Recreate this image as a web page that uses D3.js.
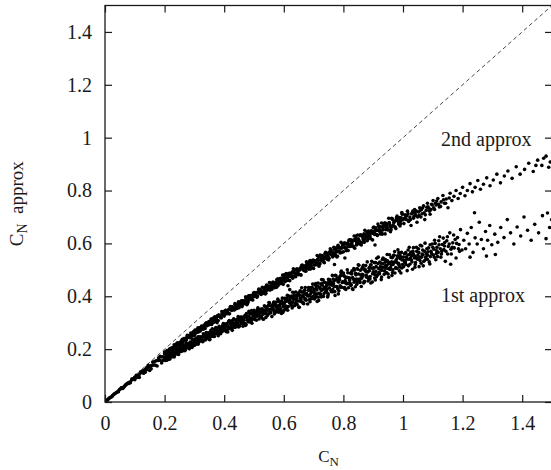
<!DOCTYPE html>
<html><head><meta charset="utf-8">
<script src="https://cdn.jsdelivr.net/npm/d3@7"></script>
<style>body{margin:0;background:#fff} svg{display:block}</style>
</head><body>
<svg id="c" width="551" height="470"></svg>
<script>
const xTicks=[0,0.2,0.4,0.6,0.8,1,1.2,1.4];
const yTicks=[0,0.2,0.4,0.6,0.8,1,1.2,1.4];
const seriesNames=["2nd approx","1st approx"];
const diagonal=[[0,0],[1.5,1.5]];

// 2nd approximation (upper band) — samples
const approx2A=[
[.01,.010],[.02,.019],[.03,.029],[.04,.037],[.05,.048],[.06,.054],[.07,.066],[.08,.073],[.09,.087],[.10,.093],[.11,.099],[.12,.114],[.13,.119],[.14,.130],[.15,.133],[.16,.151],[.17,.155],[.18,.167],[.19,.170],[.20,.189],
[.005,.005],[.015,.015],[.025,.023],[.035,.033],[.045,.042],[.055,.054],[.065,.060],[.075,.071],[.085,.076],[.095,.089],[.105,.101],[.115,.104],[.125,.117],[.135,.124],[.145,.139],[.155,.138],[.165,.152],[.175,.157],[.185,.173],[.195,.171],
[.200,.183],[.204,.180],[.208,.195],[.212,.190],[.216,.199],[.220,.190],[.224,.204],[.228,.201],[.232,.216],[.236,.211],
[.240,.208],[.244,.223],[.248,.218],[.252,.225],[.256,.219],[.260,.237],[.264,.232],[.268,.240],[.272,.235],[.276,.252],
[.280,.247],[.284,.243],[.288,.261],[.292,.254],[.296,.264],[.300,.252],[.304,.268],[.308,.263],[.312,.281],[.316,.274],
[.320,.269],[.324,.287],[.328,.279],[.332,.288],[.336,.278],[.340,.300],[.344,.293],[.348,.302],[.352,.294],[.356,.314],
[.360,.307],[.364,.301],[.368,.322],[.372,.312],[.376,.324],[.380,.308],[.384,.327],[.388,.321],[.392,.342],[.396,.332],
[.400,.325],[.404,.346],[.408,.336],[.412,.346],[.416,.334],[.420,.359],[.424,.350],[.428,.360],[.432,.349],[.436,.372],
[.440,.363],[.444,.355],[.448,.379],[.452,.367],[.456,.380],[.460,.361],[.464,.383],[.468,.374],[.472,.398],[.476,.386],
[.480,.377],[.484,.401],[.488,.389],[.492,.400],[.496,.386],[.500,.414],[.504,.403],[.508,.414],[.512,.401],[.516,.427],
[.520,.416],[.524,.407],[.528,.434],[.532,.419],[.536,.433],[.540,.411],[.544,.435],[.548,.425],[.552,.452],[.556,.437],
[.560,.427],[.564,.454],[.568,.439],[.572,.451],[.576,.434],[.580,.466],[.584,.453],[.588,.465],[.592,.450],[.596,.480],
[.600,.467],[.604,.455],[.608,.486],[.612,.468],[.616,.485],[.620,.459],[.624,.486],[.628,.474],[.632,.504],[.636,.487],
[.640,.474],[.644,.504],[.648,.488],[.652,.500],[.656,.481],[.660,.516],[.664,.501],[.668,.514],[.672,.497],[.676,.530],
[.680,.515],[.684,.502],[.688,.535],[.692,.516],[.696,.534],[.700,.505],[.704,.534],[.708,.521],[.712,.554],[.716,.535],
[.720,.521],[.724,.553],[.728,.535],[.732,.549],[.736,.527],[.740,.566],[.744,.549],[.748,.563],[.752,.544],[.756,.580],
[.760,.563],[.764,.549],[.768,.585],[.772,.563],[.776,.583],[.780,.551],[.784,.583],[.788,.568],[.792,.604],[.796,.583],
[.800,.568],[.804,.602],[.808,.582],[.812,.597],[.816,.573],[.820,.614],[.824,.596],[.828,.611],[.832,.590],[.836,.628],
[.840,.610],[.844,.594],[.848,.632],[.852,.608],[.856,.629],[.860,.594],[.864,.628],[.868,.612],[.872,.650],[.876,.627],
[.880,.610],[.884,.647],[.888,.625],[.892,.641],[.896,.615],[.900,.659],[.904,.639],[.908,.655],[.912,.633],[.916,.673],
[.920,.653],[.924,.636],[.928,.677],[.932,.651],[.936,.673],[.940,.636],[.944,.672],[.948,.654],[.952,.695],[.956,.670],
[.960,.652],[.964,.691],[.968,.667],[.972,.684],[.976,.656],[.980,.703],[.984,.682],[.988,.698],[.992,.674],[.996,.717]
];
const approx2B=[
[.202,.187],[.206,.186],[.210,.184],[.214,.195],[.218,.201],[.222,.197],[.226,.203],[.230,.201],[.234,.212],[.238,.204],
[.242,.223],[.246,.217],[.250,.223],[.254,.219],[.258,.234],[.262,.236],[.266,.233],[.270,.231],[.274,.244],[.278,.250],
[.282,.244],[.286,.251],[.290,.248],[.294,.261],[.298,.251],[.302,.272],[.306,.264],[.310,.271],[.314,.265],[.318,.281],
[.322,.283],[.326,.279],[.330,.275],[.334,.290],[.338,.297],[.342,.288],[.346,.296],[.350,.292],[.354,.306],[.358,.293],
[.362,.317],[.366,.307],[.370,.315],[.374,.308],[.378,.326],[.382,.328],[.386,.323],[.390,.318],[.394,.334],[.398,.342],
[.402,.331],[.406,.340],[.410,.334],[.414,.349],[.418,.334],[.422,.361],[.426,.349],[.430,.357],[.434,.348],[.438,.369],
[.442,.370],[.446,.364],[.450,.357],[.454,.375],[.458,.383],[.462,.371],[.466,.380],[.470,.373],[.474,.390],[.478,.372],
[.482,.402],[.486,.389],[.490,.398],[.494,.387],[.498,.410],[.502,.411],[.506,.403],[.510,.396],[.514,.415],[.518,.424],
[.522,.410],[.526,.419],[.530,.411],[.534,.430],[.538,.409],[.542,.442],[.546,.426],[.550,.436],[.554,.424],[.558,.449],
[.562,.450],[.566,.441],[.570,.432],[.574,.453],[.578,.462],[.582,.447],[.586,.457],[.590,.448],[.594,.468],[.598,.445],
[.602,.481],[.606,.464],[.610,.474],[.614,.460],[.618,.487],[.622,.487],[.626,.478],[.630,.468],[.634,.491],[.638,.500],
[.642,.483],[.646,.494],[.650,.483],[.654,.505],[.658,.480],[.662,.518],[.666,.499],[.670,.510],[.674,.495],[.678,.524],
[.682,.524],[.686,.513],[.690,.503],[.694,.527],[.698,.537],[.702,.518],[.706,.530],[.710,.519],[.714,.541],[.718,.514],
[.722,.556],[.726,.535],[.730,.547],[.734,.530],[.738,.561],[.742,.561],[.746,.549],[.750,.537],[.754,.563],[.758,.574],
[.762,.554],[.766,.566],[.770,.554],[.774,.578],[.778,.549],[.782,.593],[.786,.571],[.790,.583],[.794,.566],[.798,.597],
[.802,.597],[.806,.585],[.810,.572],[.814,.599],[.818,.610],[.822,.588],[.826,.601],[.830,.588],[.834,.613],[.838,.582],
[.842,.628],[.846,.604],[.850,.616],[.854,.598],[.858,.631],[.862,.631],[.866,.617],[.870,.604],[.874,.632],[.878,.644],
[.882,.621],[.886,.634],[.890,.620],[.894,.646],[.898,.613],[.902,.662],[.906,.636],[.910,.649],[.914,.630],[.918,.665],
[.922,.664],[.926,.650],[.930,.635],[.934,.665],[.938,.677],[.942,.652],[.946,.666],[.950,.651],[.954,.679],[.958,.644],
[.962,.695],[.966,.668],[.970,.682],[.974,.660],[.978,.697],[.982,.697],[.986,.681],[.990,.666],[.994,.697],[.998,.710]
];
const approx2C=[
[.201,.184],[.205,.184],[.209,.193],[.213,.188],[.217,.196],[.221,.197],[.225,.205],[.229,.200],[.233,.209],[.237,.216],
[.241,.220],[.245,.217],[.249,.217],[.253,.227],[.257,.225],[.261,.227],[.265,.240],[.269,.238],[.273,.235],[.277,.246],
[.281,.251],[.285,.246],[.289,.255],[.293,.255],[.297,.266],[.301,.256],[.305,.267],[.309,.274],[.313,.268],[.317,.274],
[.321,.281],[.325,.275],[.329,.281],[.333,.291],[.337,.289],[.341,.294],[.345,.291],[.349,.304],[.353,.295],[.357,.304],
[.361,.304],[.365,.314],[.369,.305],[.373,.317],[.377,.324],[.381,.329],[.385,.323],[.389,.321],[.393,.334],[.397,.329],
[.401,.331],[.405,.347],[.409,.342],[.413,.336],[.417,.350],[.421,.355],[.425,.346],[.429,.357],[.433,.355],[.437,.369],
[.441,.353],[.445,.367],[.449,.375],[.453,.366],[.457,.372],[.461,.381],[.465,.371],[.469,.378],[.473,.391],[.477,.387],
[.481,.393],[.485,.387],[.489,.403],[.493,.389],[.497,.400],[.501,.399],[.505,.411],[.509,.398],[.513,.412],[.517,.420],
[.521,.425],[.525,.416],[.529,.412],[.533,.428],[.537,.421],[.541,.421],[.545,.441],[.549,.434],[.553,.425],[.557,.443],
[.561,.448],[.565,.436],[.569,.448],[.573,.445],[.577,.463],[.581,.441],[.585,.458],[.589,.468],[.593,.455],[.597,.462],
[.601,.472],[.605,.458],[.609,.466],[.613,.482],[.617,.475],[.621,.482],[.625,.474],[.629,.493],[.633,.475],[.637,.487],
[.641,.485],[.645,.499],[.649,.482],[.653,.499],[.657,.509],[.661,.513],[.665,.502],[.669,.497],[.673,.515],[.677,.506],
[.681,.506],[.685,.529],[.689,.520],[.693,.509],[.697,.529],[.701,.535],[.705,.519],[.709,.534],[.713,.529],[.717,.550],
[.721,.524],[.725,.542],[.729,.554],[.733,.538],[.737,.546],[.741,.557],[.745,.540],[.749,.550],[.753,.567],[.757,.559],
[.761,.566],[.765,.557],[.769,.578],[.773,.557],[.777,.571],[.781,.569],[.785,.585],[.789,.564],[.793,.583],[.797,.594],
[.801,.599],[.805,.585],[.809,.579],[.813,.600],[.817,.588],[.821,.588],[.825,.614],[.829,.602],[.833,.589],[.837,.612],
[.841,.618],[.845,.599],[.849,.616],[.853,.610],[.857,.633],[.861,.603],[.865,.624],[.869,.636],[.873,.617],[.877,.626],
[.881,.638],[.885,.618],[.889,.629],[.893,.648],[.897,.638],[.901,.646],[.905,.634],[.909,.659],[.913,.633],[.917,.649],
[.921,.646],[.925,.663],[.929,.639],[.933,.660],[.937,.672],[.941,.677],[.945,.661],[.949,.653],[.953,.677],[.957,.663],
[.961,.662],[.965,.692],[.969,.678],[.973,.663],[.977,.688],[.981,.695],[.985,.673],[.989,.692],[.993,.685],[.997,.711]
];
const approx2Tail=[
[1.003,.675],[1.007,.708],[1.011,.690],[1.015,.722],[1.019,.683],[1.023,.700],[1.027,.668],[1.031,.715],[1.035,.695],[1.039,.728],
[1.043,.705],[1.047,.680],[1.052,.719],[1.056,.735],[1.060,.700],[1.064,.712],[1.069,.742],[1.073,.690],[1.078,.725],[1.082,.752],
[1.087,.733],[1.091,.710],[1.096,.748],[1.101,.762],[1.106,.728],[1.111,.745],[1.117,.770],[1.122,.738],[1.128,.757],[1.134,.781],
[1.139,.752],[1.145,.768],[1.151,.735],[1.158,.790],[1.164,.762],[1.171,.778],[1.178,.800],[1.185,.770],[1.192,.789],[1.200,.812],
[1.208,.780],[1.216,.800],[1.225,.826],[1.233,.795],[1.242,.812],[1.251,.838],[1.260,.805],[1.270,.824],[1.281,.848],[1.292,.818],
[1.303,.840],[1.315,.862],[1.327,.829],[1.340,.855],[1.352,.874],[1.366,.846],[1.380,.890],[1.393,.862],[1.408,.880],[1.422,.903],
[1.437,.872],[1.452,.915],[1.466,.895],[1.480,.930],[1.494,.908],[1.489,.888],[1.472,.922],[1.446,.895],
[1.005,.695],[1.013,.705],[1.021,.688],[1.029,.712],[1.037,.703],[1.045,.722],[1.054,.706],[1.062,.728],[1.071,.716],[1.080,.737],[1.094,.728],[1.109,.752],
[1.001,.690],[1.009,.700],[1.017,.712],[1.025,.690],[1.033,.722],[1.041,.715],[1.049,.700],[1.058,.725],[1.066,.735],[1.075,.708],
[1.084,.738],[1.089,.722],[1.098,.745],[1.103,.735],[1.113,.760],[1.119,.748],[1.126,.740],[1.136,.765],[1.143,.752],[1.155,.772]
];

// 1st approximation (lower band)
const approx1A=[
[.01,.010],[.02,.018],[.03,.029],[.04,.037],[.05,.048],[.06,.051],[.07,.064],[.08,.070],[.09,.083],[.10,.084],[.11,.096],[.12,.111],[.13,.109],[.14,.122],[.15,.119],[.16,.139],[.17,.139],[.18,.157],[.19,.148],[.20,.163],
[.005,.004],[.015,.015],[.025,.023],[.035,.033],[.045,.039],[.055,.053],[.065,.058],[.075,.069],[.085,.073],[.095,.088],[.105,.092],[.115,.093],[.125,.111],[.135,.113],[.145,.131],[.155,.126],[.165,.140],[.175,.136],[.185,.158],[.195,.157],
[.200,.163],[.203,.157],[.207,.176],[.210,.166],[.213,.176],[.217,.162],[.220,.179],[.223,.172],[.227,.191],[.230,.181],[.233,.174],[.237,.193],
[.240,.183],[.243,.193],[.247,.180],[.250,.204],[.253,.195],[.257,.204],[.260,.193],[.263,.216],[.267,.206],[.270,.198],[.273,.221],[.277,.208],
[.280,.221],[.283,.201],[.287,.222],[.290,.213],[.293,.237],[.297,.224],[.300,.214],[.303,.238],[.307,.225],[.310,.235],[.313,.219],[.317,.247],
[.320,.235],[.323,.246],[.327,.231],[.330,.258],[.333,.246],[.337,.235],[.340,.263],[.343,.246],[.347,.261],[.350,.236],[.353,.261],[.357,.249],
[.360,.277],[.363,.260],[.367,.248],[.370,.276],[.373,.260],[.377,.271],[.380,.251],[.383,.286],[.387,.271],[.390,.283],[.393,.266],[.397,.297],
[.400,.278],[.403,.295],[.407,.266],[.410,.289],[.413,.275],[.417,.308],[.420,.282],[.423,.300],[.427,.271],[.430,.294],[.433,.312],[.437,.283],
[.440,.306],[.443,.296],[.447,.323],[.450,.286],[.453,.307],[.457,.297],[.460,.321],[.463,.287],[.467,.309],[.470,.328],[.473,.294],[.477,.321],
[.480,.304],[.483,.343],[.487,.313],[.490,.333],[.493,.298],[.497,.325],[.500,.347],[.503,.312],[.507,.338],[.510,.326],[.513,.356],[.517,.314],
[.520,.339],[.523,.325],[.527,.353],[.530,.314],[.533,.338],[.537,.360],[.540,.320],[.543,.352],[.547,.332],[.550,.376],[.553,.341],[.557,.363],
[.560,.323],[.563,.354],[.567,.378],[.570,.338],[.573,.368],[.577,.354],[.580,.389],[.583,.340],[.587,.368],[.590,.353],[.593,.383],[.597,.339],
[.600,.346],[.603,.392],[.607,.363],[.610,.381],[.613,.347],[.617,.401],[.620,.375],[.623,.394],[.627,.364],[.630,.415],[.633,.388],[.637,.365],
[.640,.416],[.643,.381],[.647,.408],[.650,.359],[.653,.404],[.657,.380],[.660,.432],[.663,.397],[.667,.372],[.670,.423],[.673,.390],[.677,.410],
[.680,.371],[.683,.433],[.687,.403],[.690,.424],[.693,.391],[.697,.446],[.700,.417],[.703,.390],[.707,.448],[.710,.409],[.713,.439],[.717,.384],
[.720,.434],[.723,.407],[.727,.463],[.730,.426],[.733,.399],[.737,.453],[.740,.418],[.743,.440],[.747,.397],[.750,.464],[.753,.432],[.757,.454],
[.760,.417],[.763,.479],[.767,.446],[.770,.417],[.773,.479],[.777,.437],[.780,.469],[.783,.409],[.787,.463],[.790,.434],[.793,.495],[.797,.454],
[.800,.488],[.803,.430],[.807,.472],[.810,.451],[.813,.500],[.817,.432],[.820,.469],[.823,.448],[.827,.490],[.830,.428],[.833,.465],[.837,.499],
[.840,.436],[.843,.483],[.847,.453],[.850,.519],[.853,.465],[.857,.498],[.860,.437],[.863,.483],[.867,.517],[.870,.457],[.873,.501],[.877,.479],
[.880,.530],[.883,.458],[.887,.497],[.890,.475],[.893,.519],[.897,.454],[.900,.493],[.903,.528],[.907,.462],[.910,.512],[.913,.479],[.917,.548],
[.920,.491],[.923,.527],[.927,.463],[.930,.510],[.933,.545],[.937,.483],[.940,.529],[.943,.506],[.947,.558],[.950,.484],[.953,.524],[.957,.501],
[.960,.547],[.963,.479],[.967,.520],[.970,.555],[.973,.488],[.977,.538],[.980,.505],[.983,.576],[.987,.518],[.990,.554],[.993,.488],[.997,.537]
];
const approx1B=[
[.202,.169],[.205,.163],[.208,.158],[.212,.173],[.215,.179],[.218,.169],[.222,.177],[.225,.171],[.228,.185],[.232,.170],[.235,.194],[.238,.183],
[.242,.191],[.245,.182],[.248,.200],[.252,.207],[.255,.191],[.258,.199],[.262,.209],[.265,.201],[.268,.194],[.272,.212],[.275,.219],[.278,.207],
[.282,.215],[.285,.208],[.288,.224],[.292,.206],[.295,.235],[.298,.221],[.302,.230],[.305,.218],[.308,.240],[.312,.247],[.315,.226],[.318,.236],
[.322,.246],[.325,.237],[.328,.228],[.332,.248],[.335,.256],[.338,.240],[.342,.250],[.345,.240],[.348,.259],[.352,.236],[.355,.270],[.358,.253],
[.362,.263],[.365,.248],[.368,.274],[.372,.282],[.375,.258],[.378,.268],[.382,.280],[.385,.269],[.388,.258],[.392,.281],[.395,.290],[.398,.272],
[.402,.282],[.405,.270],[.408,.292],[.412,.265],[.415,.304],[.418,.283],[.422,.294],[.425,.277],[.428,.306],[.432,.315],[.435,.286],[.438,.298],
[.442,.311],[.445,.298],[.448,.284],[.452,.311],[.455,.321],[.458,.299],[.462,.310],[.465,.297],[.468,.321],[.472,.290],[.475,.335],[.478,.310],
[.482,.323],[.485,.303],[.488,.336],[.492,.346],[.495,.313],[.498,.326],[.502,.341],[.505,.325],[.508,.309],[.512,.339],[.515,.350],[.518,.325],
[.522,.338],[.525,.322],[.528,.349],[.532,.313],[.535,.364],[.538,.336],[.542,.350],[.545,.327],[.548,.364],[.552,.375],[.555,.337],[.558,.352],
[.562,.368],[.565,.350],[.568,.333],[.572,.366],[.575,.378],[.578,.349],[.582,.364],[.585,.346],[.588,.376],[.592,.335],[.595,.393],[.598,.361],
[.602,.376],[.605,.350],[.608,.392],[.612,.404],[.615,.361],[.618,.378],[.622,.395],[.625,.376],[.628,.356],[.632,.393],[.635,.406],[.638,.374],
[.642,.390],[.645,.369],[.648,.403],[.652,.358],[.655,.421],[.658,.386],[.662,.402],[.665,.374],[.668,.420],[.672,.433],[.675,.385],[.678,.404],
[.682,.423],[.685,.401],[.688,.379],[.692,.419],[.695,.434],[.698,.399],[.702,.416],[.705,.393],[.708,.430],[.712,.380],[.715,.450],[.718,.411],
[.722,.429],[.725,.397],[.728,.448],[.732,.462],[.735,.410],[.738,.429],[.742,.450],[.745,.426],[.748,.402],[.752,.446],[.755,.462],[.758,.423],
[.762,.442],[.765,.417],[.768,.457],[.772,.403],[.775,.478],[.778,.436],[.782,.455],[.785,.421],[.788,.475],[.792,.490],[.795,.434],[.798,.455],
[.802,.477],[.805,.451],[.808,.426],[.812,.472],[.815,.489],[.818,.448],[.822,.468],[.825,.441],[.828,.484],[.832,.426],[.835,.505],[.838,.461],
[.842,.481],[.845,.445],[.848,.502],[.852,.517],[.855,.458],[.858,.480],[.862,.503],[.865,.476],[.868,.450],[.872,.498],[.875,.516],[.878,.472],
[.882,.493],[.885,.466],[.888,.510],[.892,.450],[.895,.532],[.898,.485],[.902,.506],[.905,.469],[.908,.528],[.912,.544],[.915,.482],[.918,.505],
[.922,.529],[.925,.501],[.928,.473],[.932,.523],[.935,.541],[.938,.496],[.942,.517],[.945,.489],[.948,.534],[.952,.472],[.955,.557],[.958,.509],
[.962,.530],[.965,.490],[.968,.552],[.972,.569],[.975,.506],[.978,.529],[.982,.553],[.985,.525],[.988,.496],[.992,.547],[.995,.566],[.998,.520]
];
const approx1C=[
[.201,.165],[.204,.160],[.206,.172],[.209,.166],[.211,.162],[.216,.177],[.221,.170],[.224,.179],[.226,.183],[.229,.177],[.231,.190],[.236,.184],
[.241,.195],[.244,.183],[.246,.191],[.249,.197],[.251,.190],[.256,.200],[.261,.200],[.264,.210],[.266,.197],[.269,.215],[.271,.208],[.276,.205],
[.281,.219],[.284,.213],[.286,.227],[.289,.212],[.291,.223],[.296,.214],[.301,.221],[.304,.238],[.306,.228],[.309,.238],[.311,.221],[.316,.236],
[.321,.238],[.324,.232],[.326,.245],[.329,.231],[.331,.252],[.336,.249],[.341,.252],[.344,.243],[.346,.261],[.349,.250],[.351,.242],[.356,.264],
[.361,.250],[.364,.263],[.366,.269],[.369,.258],[.371,.276],[.376,.266],[.381,.280],[.384,.260],[.386,.272],[.389,.279],[.391,.269],[.396,.281],
[.401,.278],[.404,.292],[.406,.272],[.409,.297],[.411,.286],[.416,.279],[.421,.297],[.424,.287],[.426,.307],[.429,.283],[.431,.298],[.436,.283],
[.441,.292],[.444,.314],[.446,.300],[.449,.313],[.451,.288],[.456,.309],[.461,.310],[.464,.300],[.466,.319],[.469,.297],[.471,.326],[.476,.321],
[.481,.324],[.484,.310],[.486,.335],[.489,.318],[.491,.307],[.496,.336],[.501,.315],[.504,.332],[.506,.339],[.509,.324],[.511,.349],[.516,.333],
[.521,.351],[.524,.321],[.526,.338],[.529,.347],[.531,.332],[.536,.347],[.541,.342],[.544,.360],[.546,.332],[.549,.366],[.551,.350],[.556,.339],
[.561,.363],[.564,.348],[.566,.376],[.569,.343],[.571,.362],[.576,.341],[.581,.352],[.584,.381],[.586,.362],[.589,.378],[.591,.345],[.596,.372],
[.601,.372],[.604,.358],[.606,.383],[.609,.354],[.611,.392],[.616,.384],[.621,.386],[.624,.368],[.626,.401],[.629,.377],[.631,.362],[.636,.400],
[.641,.371],[.644,.393],[.646,.403],[.649,.382],[.651,.414],[.656,.392],[.661,.415],[.664,.377],[.666,.398],[.669,.409],[.671,.389],[.676,.408],
[.681,.401],[.684,.424],[.686,.388],[.689,.432],[.691,.411],[.696,.396],[.701,.425],[.704,.407],[.706,.442],[.709,.399],[.711,.424],[.716,.396],
[.721,.410],[.724,.446],[.726,.422],[.729,.442],[.731,.400],[.736,.433],[.741,.433],[.744,.415],[.746,.445],[.749,.409],[.751,.456],[.756,.446],
[.761,.448],[.764,.425],[.766,.465],[.769,.436],[.771,.418],[.776,.463],[.781,.428],[.784,.454],[.786,.465],[.789,.440],[.791,.479],[.796,.452],
[.801,.479],[.804,.433],[.806,.459],[.809,.471],[.811,.447],[.816,.470],[.821,.460],[.824,.487],[.826,.444],[.829,.496],[.831,.471],[.836,.453],
[.841,.487],[.844,.465],[.846,.505],[.849,.456],[.851,.484],[.856,.452],[.861,.468],[.864,.509],[.866,.481],[.869,.504],[.871,.455],[.876,.493],
[.881,.492],[.884,.472],[.886,.506],[.889,.465],[.891,.518],[.896,.506],[.901,.508],[.904,.483],[.906,.527],[.909,.494],[.911,.474],[.916,.524],
[.921,.485],[.924,.512],[.926,.525],[.929,.498],[.931,.539],[.936,.510],[.941,.539],[.944,.489],[.946,.516],[.949,.530],[.951,.504],[.956,.528],
[.961,.518],[.964,.546],[.966,.500],[.969,.555],[.971,.529],[.976,.509],[.981,.545],[.984,.522],[.986,.565],[.989,.511],[.991,.542],[.996,.507]
];
const approx1Tail=[
[1.002,.512],[1.005,.561],[1.008,.530],[1.011,.548],[1.014,.497],[1.017,.575],[1.020,.540],[1.023,.521],[1.026,.566],[1.029,.553],
[1.032,.502],[1.035,.584],[1.038,.545],[1.042,.528],[1.046,.570],[1.050,.556],[1.054,.512],[1.058,.593],[1.062,.548],[1.066,.575],
[1.070,.532],[1.074,.601],[1.078,.561],[1.082,.540],[1.086,.583],[1.090,.522],[1.094,.570],[1.098,.598],
[1.102,.556],[1.106,.612],[1.110,.538],[1.114,.585],[1.118,.566],[1.123,.625],[1.127,.548],[1.132,.596],[1.137,.577],[1.142,.532],
[1.147,.610],[1.152,.588],[1.157,.640],[1.162,.560],[1.167,.602],[1.172,.583],[1.178,.545],[1.183,.622],[1.188,.596],[1.193,.652],
[1.198,.575],[1.160,.521],
[1.204,.612],[1.210,.580],[1.216,.638],[1.222,.598],[1.229,.660],[1.235,.566],[1.242,.621],[1.249,.598],[1.256,.680],[1.263,.615],
[1.270,.580],[1.277,.645],[1.284,.612],[1.291,.668],[1.298,.595],[1.240,.716],
[1.308,.635],[1.318,.604],[1.328,.660],[1.339,.622],[1.350,.690],[1.361,.640],[1.372,.598],[1.383,.662],[1.395,.628],[1.406,.700],
[1.418,.650],[1.430,.612],[1.442,.672],[1.455,.640],[1.468,.705],[1.480,.618],[1.492,.660],[1.499,.690],[1.485,.715],
[1.225,.548],[1.280,.552],[1.310,.558],
[.614,.440],[.620,.425],[.476,.368],[.376,.300],[.805,.545],[.906,.594],[.770,.520],
[1.004,.535],[1.010,.520],[1.016,.556],[1.021,.585],[1.028,.537],[1.034,.562],[1.040,.510],[1.044,.548],[1.052,.580],[1.057,.535],
[1.064,.560],[1.068,.515],[1.076,.548],[1.084,.568],[1.092,.550],[1.104,.578],[1.112,.562],[1.121,.595],[1.130,.570],[1.140,.603],
[1.150,.560],[1.165,.585],[1.175,.615],[1.190,.570],
[1.001,.548],[1.006,.528],[1.009,.565],[1.013,.540],[1.018,.515],[1.022,.558],[1.025,.545],[1.030,.530],[1.033,.570],[1.037,.555],
[1.041,.520],[1.045,.585],[1.048,.540],[1.053,.566],[1.056,.548],[1.061,.525],[1.063,.590],[1.067,.556],[1.072,.570],[1.075,.538],
[1.080,.580],[1.083,.555],[1.088,.530],[1.091,.595],[1.096,.562],[1.100,.585],[1.105,.548],[1.108,.600],[1.113,.572],[1.116,.550],
[1.120,.610],[1.125,.580],[1.129,.560],[1.135,.620],[1.139,.590],[1.144,.570],[1.149,.625],[1.155,.598],[1.161,.578],[1.170,.632],
[1.180,.600],[1.186,.580]
];
const approx2=[...approx2A,...approx2B,...approx2C,...approx2Tail];
const approx1=[...approx1A,...approx1B,...approx1C,...approx1Tail];

const svg=d3.select("#c");
const L=105,R=552,T=5.5,B=402;
const x=d3.scaleLinear().domain([0,1.5]).range([L,R]);
const y=d3.scaleLinear().domain([0,1.5]).range([B,T]);
const font='"Liberation Serif","Times New Roman",Times,serif';
const ink="#1a1a1a";

svg.append("defs").append("clipPath").attr("id","plot")
  .append("rect").attr("x",L).attr("y",T).attr("width",R-L).attr("height",B-T);

const g=svg.append("g").attr("clip-path","url(#plot)");
g.append("path").datum(diagonal)
  .attr("d",d3.line().x(d=>x(d[0])).y(d=>y(d[1])))
  .attr("fill","none").attr("stroke","#333").attr("stroke-width",0.9)
  .attr("stroke-dasharray","4,3");

[approx1,approx2].forEach(s=>{
  g.append("g").selectAll("circle").data(s).join("circle")
    .attr("cx",d=>x(d[0])).attr("cy",d=>y(d[1])).attr("r",1.8).attr("fill","#000");
});

const fmt=d=>String(+d.toFixed(1));
function styleAxis(sel,labels){
  sel.attr("font-family",font).attr("font-size",20);
  sel.select(".domain").remove();
  sel.selectAll(".tick line").attr("stroke",ink).attr("stroke-width",1.2);
  sel.selectAll(".tick text").attr("fill",ink).attr("font-family",font).attr("font-size",20)
    .style("font-family",font).style("font-size","20px");
  if(!labels) sel.selectAll(".tick text").remove();
}
svg.append("g").attr("transform",`translate(0,${B})`)
  .call(d3.axisBottom(x).tickValues(xTicks).tickFormat(fmt).tickSizeInner(-7).tickSizeOuter(0).tickPadding(14))
  .call(s=>styleAxis(s,true));
svg.append("g").attr("transform",`translate(0,${T})`)
  .call(d3.axisTop(x).tickValues(xTicks).tickSizeInner(-7).tickSizeOuter(0))
  .call(s=>styleAxis(s,false));
svg.append("g").attr("transform",`translate(${L},0)`)
  .call(d3.axisLeft(y).tickValues(yTicks).tickFormat(fmt).tickSizeInner(-7).tickSizeOuter(0).tickPadding(13))
  .call(s=>styleAxis(s,true));
svg.append("g").attr("transform",`translate(${R},0)`)
  .call(d3.axisRight(y).tickValues(yTicks).tickSizeInner(-7).tickSizeOuter(0))
  .call(s=>styleAxis(s,false));

svg.append("rect").attr("x",L).attr("y",T).attr("width",R-L).attr("height",B-T)
  .attr("fill","none").attr("stroke",ink).attr("stroke-width",1.3);

// key labels
svg.append("text").attr("x",441).attr("y",146).text(seriesNames[0])
  .attr("fill",ink).style("font-family",font).style("font-size","20px");
svg.append("text").attr("x",441).attr("y",302).text(seriesNames[1])
  .attr("fill",ink).style("font-family",font).style("font-size","20px");

// axis titles
const xl=svg.append("text").attr("x",(L+R)/2).attr("y",462).attr("text-anchor","middle")
  .attr("fill",ink).style("font-family",font).style("font-size","17px");
xl.append("tspan").text("C");
xl.append("tspan").attr("dy",4).style("font-size","13px").text("N");

const yl=svg.append("text").attr("transform",`translate(23,${(T+B)/2}) rotate(-90)`)
  .attr("text-anchor","middle").attr("fill",ink).style("font-family",font).style("font-size","19px");
yl.append("tspan").text("C");
yl.append("tspan").attr("dy",4).style("font-size","14px").text("N");
yl.append("tspan").attr("dy",-4).text("\u00a0\u00a0approx");
</script>
</body></html>
